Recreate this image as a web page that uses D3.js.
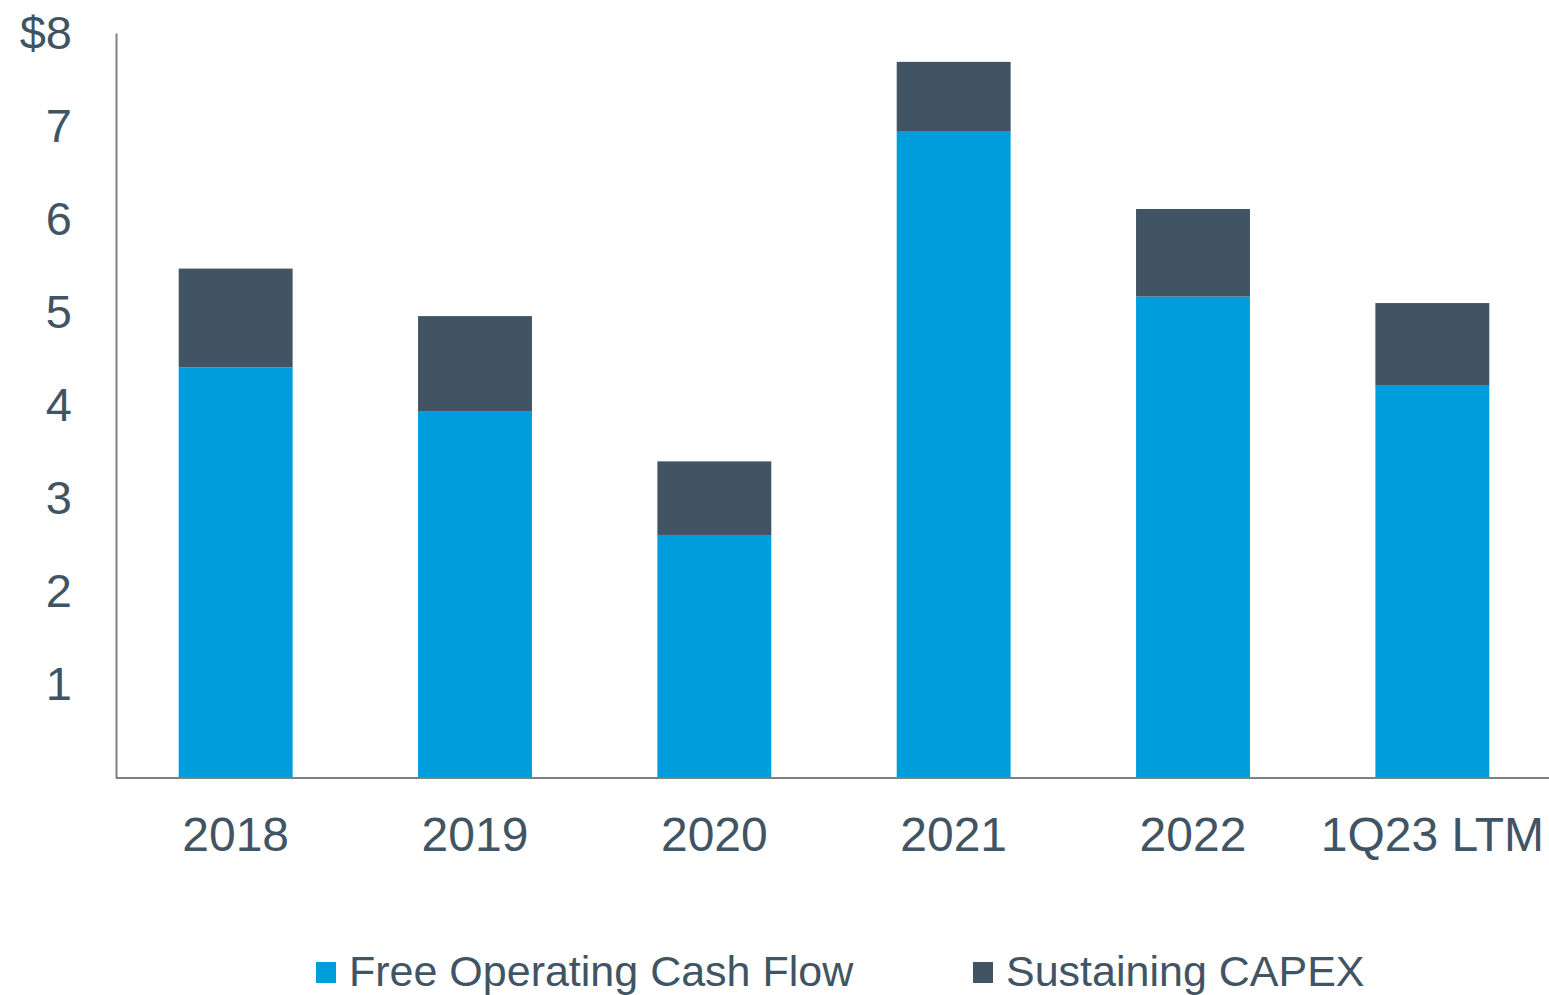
<!DOCTYPE html>
<html>
<head>
<meta charset="utf-8">
<script src="https://cdn.jsdelivr.net/npm/d3@7"></script>
<style>
  body { margin: 0; background: #fff; }
  svg text { font-family: "Liberation Sans", Arial, sans-serif; fill: #415464; }
</style>
</head>
<body>
<div id="main"></div>
<script>
const categories = ["2018", "2019", "2020", "2021", "2022", "1Q23 LTM"];
const freeCashFlow = [4.41, 3.94, 2.61, 6.94, 5.17, 4.22];
const sustainingCapex = [1.06, 1.02, 0.79, 0.75, 0.94, 0.88];
const yTicks = [1, 2, 3, 4, 5, 6, 7, 8];
const seriesNames = ["Free Operating Cash Flow", "Sustaining CAPEX"];
const seriesColors = ["#009ddc", "#415464"];

let width = 1549;
let height = 995;

let svg = d3.select("#main")
            .append("svg")
            .attr("width", width)
            .attr("height", height);

const xScale = d3.scaleBand().domain(categories).range([116, 1552])
                 .paddingInner(0.524).paddingOuter(0.262);
const yScale = d3.scaleLinear().domain([0, 8]).range([778, 33]);

let rows = categories.map((c, i) => ({cat: c, focf: freeCashFlow[i], capex: sustainingCapex[i]}));
let stacked = d3.stack().keys(["focf", "capex"])(rows);

svg.selectAll("g.series")
   .data(stacked)
   .enter()
   .append("g")
   .attr("class", "series")
   .style("fill", (d, i) => seriesColors[i])
   .selectAll("rect")
   .data(d => d)
   .enter()
   .append("rect")
   .attr("x", d => xScale(d.data.cat))
   .attr("y", d => yScale(d[1]))
   .attr("width", xScale.bandwidth())
   .attr("height", d => yScale(d[0]) - yScale(d[1]));

// y axis
let yAxis = d3.axisLeft(yScale).tickValues(yTicks).tickSize(0).tickPadding(44)
              .tickFormat(d => d === 8 ? "$8" : d);
let gy = svg.append("g").attr("transform", "translate(116,0)").call(yAxis);
gy.select(".domain").attr("stroke", "#808080").attr("stroke-width", 2);
gy.selectAll("text").style("font-size", "47px").attr("fill", "#415464");

// x axis
let xAxis = d3.axisBottom(xScale).tickSize(0).tickPadding(39);
let gx = svg.append("g").attr("transform", "translate(0,778)").call(xAxis);
gx.select(".domain").attr("d", "M116,0H1549").attr("stroke", "#808080").attr("stroke-width", 2);
gx.selectAll("text").style("font-size", "48px").attr("fill", "#415464");

// legend
let legendX = [316, 973];
let legend = svg.selectAll("g.legend")
   .data(seriesNames)
   .enter()
   .append("g")
   .attr("class", "legend")
   .attr("transform", (d, i) => `translate(${legendX[i]},962)`);
legend.append("rect")
   .attr("width", 20).attr("height", 21)
   .style("fill", (d, i) => seriesColors[i]);
legend.append("text")
   .attr("x", 33).attr("y", 24)
   .style("font-size", "43px")
   .text(d => d);
</script>
</body>
</html>
